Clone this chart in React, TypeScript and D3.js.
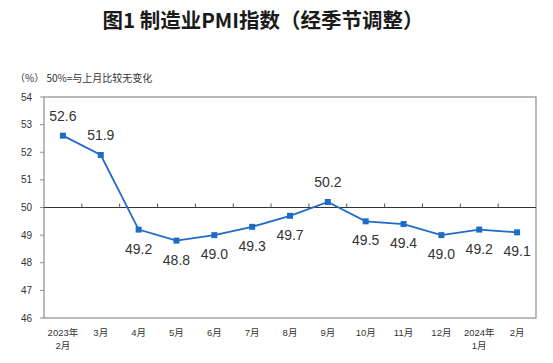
import { useEffect, useRef } from "react";
import * as d3 from "d3";

const months = [
  ["2023年", "2月"],
  ["3月"],
  ["4月"],
  ["5月"],
  ["6月"],
  ["7月"],
  ["8月"],
  ["9月"],
  ["10月"],
  ["11月"],
  ["12月"],
  ["2024年", "1月"],
  ["2月"],
];
const pmi = [52.6, 51.9, 49.2, 48.8, 49.0, 49.3, 49.7, 50.2, 49.5, 49.4, 49.0, 49.2, 49.1];
const yTicks = [46, 47, 48, 49, 50, 51, 52, 53, 54];

export default function App() {
  const svgRef = useRef<SVGSVGElement>(null);

  useEffect(() => {
    if (!svgRef.current) return;
    const svg = d3.select(svgRef.current);
    svg.selectAll("*").remove();

    const left = 44;
    const right = 536;
    const top = 97;
    const bottom = 318;
    const font = "'Liberation Sans', Arial, 'Noto Sans CJK SC', sans-serif";

    const x = d3
      .scaleBand<number>()
      .domain(d3.range(pmi.length))
      .range([left, right]);
    const y = d3.scaleLinear().domain([46, 54]).range([bottom, top]);
    const cx = (i: number) => (x(i) as number) + x.bandwidth() / 2;

    // title
    svg
      .append("text")
      .attr("x", 263)
      .attr("y", 28)
      .attr("text-anchor", "middle")
      .attr("font-family", "'Noto Sans CJK SC', sans-serif")
      .attr("font-weight", "bold")
      .attr("font-size", 20.5)
      .attr("fill", "#1a1a1a")
      .text("图1  制造业PMI指数（经季节调整）");

    svg
      .append("text")
      .attr("x", 15)
      .attr("y", 82)
      .attr("font-family", "'Noto Sans CJK SC', sans-serif")
      .attr("font-size", 10)
      .attr("fill", "#333")
      .text("（%）  50%=与上月比较无变化");

    // frame
    svg
      .append("rect")
      .attr("x", left)
      .attr("y", top)
      .attr("width", right - left)
      .attr("height", bottom - top)
      .attr("fill", "none")
      .attr("stroke", "#8c8c8c")
      .attr("stroke-width", 1.2);

    // y ticks and labels
    yTicks.forEach((t) => {
      svg
        .append("line")
        .attr("x1", left - 4)
        .attr("x2", left)
        .attr("y1", y(t))
        .attr("y2", y(t))
        .attr("stroke", "#8c8c8c");
      svg
        .append("text")
        .attr("x", 32)
        .attr("y", y(t))
        .attr("dy", "0.35em")
        .attr("text-anchor", "end")
        .attr("font-family", font)
        .attr("font-size", 10)
        .attr("fill", "#333")
        .text(t);
    });

    // 50 line with ticks at band boundaries
    svg
      .append("line")
      .attr("x1", left)
      .attr("x2", right)
      .attr("y1", y(50))
      .attr("y2", y(50))
      .attr("stroke", "#333")
      .attr("stroke-width", 1.1);
    d3.range(1, pmi.length).forEach((i) => {
      svg
        .append("line")
        .attr("x1", x(i) as number)
        .attr("x2", x(i) as number)
        .attr("y1", y(50))
        .attr("y2", y(50) - 4)
        .attr("stroke", "#555");
    });

    // x labels
    months.forEach((m, i) => {
      const t = svg
        .append("text")
        .attr("x", cx(i))
        .attr("y", 336)
        .attr("text-anchor", "middle")
        .attr("font-family", font)
        .attr("font-size", 9.5)
        .attr("fill", "#333");
      m.forEach((line, k) => {
        t.append("tspan")
          .attr("x", cx(i))
          .attr("dy", k === 0 ? 0 : 13)
          .text(line);
      });
    });

    // line
    const line = d3
      .line<number>()
      .x((_, i) => cx(i))
      .y((d) => y(d));
    svg
      .append("path")
      .datum(pmi)
      .attr("d", line)
      .attr("fill", "none")
      .attr("stroke", "#1f6cc8")
      .attr("stroke-width", 1.8);

    svg
      .selectAll("rect.pt")
      .data(pmi)
      .enter()
      .append("rect")
      .attr("class", "pt")
      .attr("x", (_, i) => cx(i) - 3)
      .attr("y", (d) => y(d) - 3)
      .attr("width", 6)
      .attr("height", 6)
      .attr("fill", "#1f6cc8");

    // value labels
    pmi.forEach((v, i) => {
      const above = v >= 50;
      svg
        .append("text")
        .attr("x", cx(i))
        .attr("y", y(v) + (above ? -20 : 19))
        .attr("dy", "0.35em")
        .attr("text-anchor", "middle")
        .attr("font-family", font)
        .attr("font-size", 14)
        .attr("fill", "#333")
        .text(v.toFixed(1));
    });
  }, []);

  return (
    <svg
      ref={svgRef}
      width={553}
      height={363}
      style={{ position: "absolute", left: 0, top: 0, background: "#fff" }}
    ></svg>
  );
}
